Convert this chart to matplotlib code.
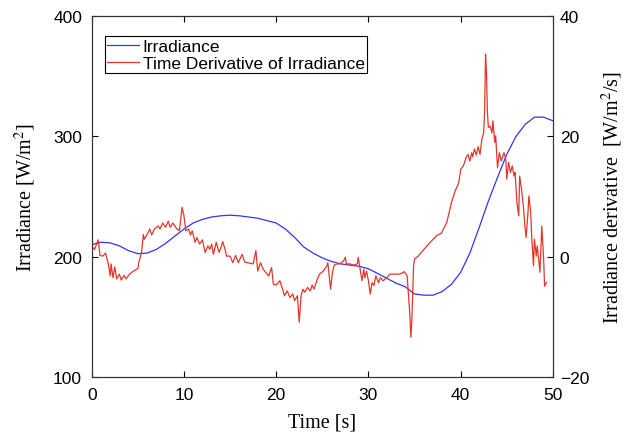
import matplotlib
matplotlib.use('Agg')
import matplotlib.pyplot as plt

# irradiance (left axis), smooth curve
t_irr = [0, 1, 2, 3, 4, 5, 6, 7, 8, 9, 10, 11, 12, 13, 14, 15, 16, 17, 18, 19, 20,
         21, 22, 23, 24, 25, 26, 27, 28, 29, 30, 31, 32, 33, 34, 35, 36, 37, 38, 39, 40,
         41, 42, 43, 44, 45, 46, 47, 48, 49, 50]
irr = [210, 212, 211.5, 209, 205, 202.5, 203, 206, 211, 217, 223, 228, 231, 233, 234, 234.5,
       234, 233, 232, 230, 228, 223, 216, 208, 203, 199, 196, 194, 193, 192, 190, 186, 182,
       178, 175, 169, 168, 168, 171, 177, 187, 203, 224, 246, 266, 285, 300, 310, 316, 316, 313]

# time derivative (right axis), noisy trace
t_der = [0.0, 0.3, 0.7, 0.9, 1.2, 1.5, 1.8, 2.0, 2.1, 2.3, 2.5, 2.7, 3.0, 3.2, 3.5, 3.7, 4.1,
         4.5, 5.0, 5.1, 5.4, 5.6, 5.7, 5.9, 6.3, 6.5, 6.8, 7.2, 7.4, 7.7, 8.0, 8.3, 8.5, 8.8,
         9.2, 9.5, 9.8, 10.0, 10.2, 10.5, 10.7, 10.9, 11.2, 11.4, 11.7, 12.0, 12.3, 12.6, 12.8,
         13.0, 13.2, 13.5, 13.8, 14.0, 14.2, 14.5, 14.6,
         15.0, 15.3, 15.6, 15.9, 16.3, 16.6, 16.9, 17.5, 17.8, 18.0, 18.3, 18.6, 18.9, 19.2,
         19.5, 19.7, 20.0, 20.4, 20.7, 20.9, 21.2, 21.5, 21.8, 22.0, 22.3, 22.5, 22.7, 22.9,
         23.1, 23.4, 23.7, 23.9, 24.1, 24.4, 24.7, 25.1, 25.5, 25.6, 25.9, 26.1, 26.3, 26.6,
         26.9, 27.3, 27.5, 27.6, 28.0, 28.4, 28.8, 28.9, 29.1, 29.3, 29.5, 29.6, 29.8, 30.0,
         30.2, 30.4, 30.6, 30.8, 31.1, 31.3, 31.6, 32.0, 32.3,
         32.8, 33.4, 33.9, 34.2, 34.4, 34.5, 34.6, 34.7, 34.9, 35.0, 35.4, 35.9, 36.7, 37.4,
         37.9, 38.5, 39.0, 39.4, 39.8, 40.0, 40.3, 40.6, 40.8, 41.0, 41.2, 41.3, 41.5, 41.7,
         41.9, 42.1, 42.3, 42.5, 42.6, 42.7, 42.8, 42.9, 43.0, 43.2, 43.4, 43.5, 43.7, 43.8,
         44.0, 44.2, 44.4, 44.7, 44.9, 45.0, 45.2, 45.4, 45.6, 45.8, 45.9, 46.1, 46.3, 46.4,
         46.6, 46.8, 47.0, 47.1, 47.3, 47.4, 47.6, 47.7, 47.9, 48.0, 48.2, 48.3, 48.5, 48.6,
         48.8, 49.0, 49.1, 49.3]
der = [1.8, 1.2, 2.8, 0.2, 0.1, 0.6, -1.2, -3.2, -1.2, -3.5, -1.7, -3.7, -2.9, -3.9, -3.1,
       -3.7, -2.9, -2.4, -2.0, -1.0, 0.7, 3.7, 2.9, 3.4, 4.6, 3.6, 4.6, 5.1, 4.6, 5.6, 4.9,
       5.9, 4.9, 5.6, 4.7, 4.3, 8.2, 6.8, 4.3, 4.6, 3.6, 4.3, 2.4, 3.2, 2.1, 2.8, 0.7, 1.8,
       1.2, 2.1, 0.4, 2.4, 0.7, 1.5, 2.5, 1.0, 0.1,
       0.1, -1.0, 0.2, -1.0, 0.4, -0.9, -1.0, -1.2, 1.0, -2.4, -1.0, -2.1, -2.7, -3.2, -1.8,
       -4.6, -4.7, -4.0, -5.4, -6.5, -5.7, -6.8, -6.2, -7.3, -6.5, -10.9, -6.5, -5.4, -5.9,
       -5.1, -5.7, -4.7, -5.4, -4.0, -2.9, -2.4, -1.5, -1.0, -5.4, -2.6, -1.4, -1.2, -1.2,
       -0.7, -0.1, -1.2, -1.2, -1.4, -1.2, -0.1, -2.1, -4.0, -2.1, -3.5, -2.4, -4.0, -6.2,
       -4.3, -4.8, -3.2, -4.3, -3.5, -4.0, -3.5, -2.9,
       -2.9, -2.9, -2.5, -3.2, -7.6, -9.8, -13.4, -10.9, -1.5, -0.4, 0.1, 1.0, 2.4, 3.5, 3.9,
       5.7, 9.0, 10.9, 12.3, 14.5, 15.1, 16.5, 17.0, 15.9, 17.3, 16.6, 17.9, 16.9, 18.3, 17.0,
       19.5, 20.6, 24.2, 33.7, 30.6, 24.2, 21.5, 21.7, 20.6, 22.6, 19.0, 20.1, 14.8, 17.3,
       15.9, 17.3, 16.2, 12.9, 15.7, 14.0, 15.1, 13.4, 14.0, 9.0, 6.8, 13.4, 11.2, 8.4, 4.6,
       3.2, 7.3, 10.1, 7.3, 3.5, -1.5, 2.9, 0.1, 1.8, -1.0, -2.6, 5.1, -0.4, -4.9, -4.3]

plt.rcParams['font.family'] = 'Liberation Sans'
plt.rcParams['mathtext.fontset'] = 'stix'

fig = plt.figure(figsize=(6.24, 4.39), dpi=100)
ax = fig.add_axes([0.147, 0.139, 0.739, 0.822])
ax2 = ax.twinx()

l1, = ax.plot(t_irr, irr, color='#3333ff', lw=0.9, label='Irradiance')
l2, = ax2.plot(t_der, der, color='#e2362c', lw=0.9, label='Time Derivative of Irradiance')

ax.set_xlim(0, 50)
ax.set_ylim(100, 400)
ax2.set_ylim(-20, 40)
ax.set_xticks([0, 10, 20, 30, 40, 50])
ax.set_yticks([100, 200, 300, 400])
ax2.set_yticks([-20, 0, 20, 40])

ax.tick_params(direction='in', top=True, length=4, labelsize=12.5, width=0.8, pad=7)
ax2.tick_params(direction='in', length=4, labelsize=12.5, width=0.8, pad=5)
for a in (ax, ax2):
    for s in a.spines.values():
        s.set_color('#333333')
        s.set_linewidth(0.8)

ax.set_xlabel('Time [s]', family='Liberation Serif', fontsize=14.5, labelpad=8)
ax.set_ylabel('Irradiance [W/m$^2$]', family='Liberation Serif', fontsize=14.5, labelpad=11)
ax2.set_ylabel('Irradiance derivative  [W/m$^2$/s]', family='Liberation Serif',
               fontsize=14.5, labelpad=8)

leg = ax2.legend([l1, l2], [l1.get_label(), l2.get_label()], loc='upper left',
                 bbox_to_anchor=(0.028, 0.945), fancybox=False, framealpha=1,
                 edgecolor='black', fontsize=12.5, handlelength=1.85, borderaxespad=0,
                 borderpad=0.15, labelspacing=0.1, handletextpad=0.2)
leg.get_frame().set_linewidth(0.8)

fig.savefig('out.png', dpi=100)
